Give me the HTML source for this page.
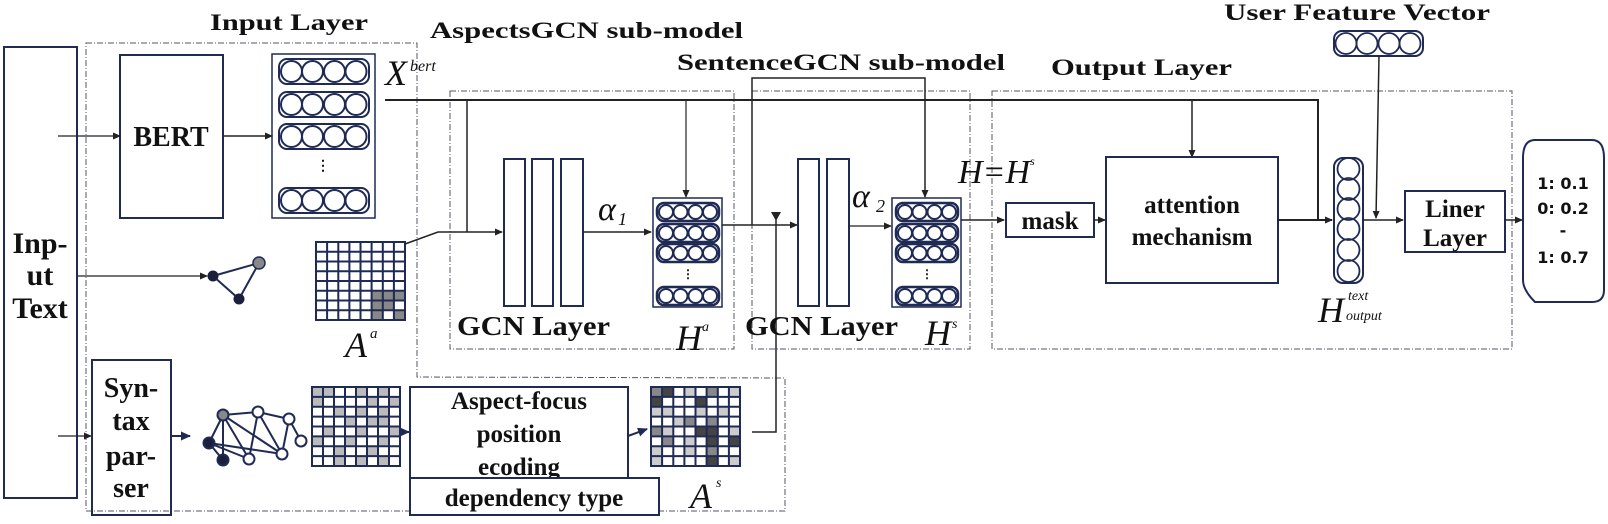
<!DOCTYPE html>
<html><head><meta charset="utf-8"><style>
html,body{margin:0;padding:0;background:#fff;}
svg{display:block;}
.t{font-family:"Liberation Serif",serif;font-weight:bold;fill:#111;}
.m{font-family:"Liberation Serif",serif;font-style:italic;fill:#111;}
.s{font-family:"DejaVu Sans","Liberation Sans",sans-serif;font-weight:bold;fill:#111;}
</style></head><body>
<svg width="1608" height="524" viewBox="0 0 1608 524" xmlns="http://www.w3.org/2000/svg">
<defs>
<marker id="a" markerWidth="8" markerHeight="8" refX="7" refY="4" orient="auto" markerUnits="userSpaceOnUse"><path d="M0,0.5 L8,4 L0,7.5z" fill="#222"/></marker>
<marker id="an" markerWidth="10" markerHeight="10" refX="9" refY="5" orient="auto" markerUnits="userSpaceOnUse"><path d="M0,0.5 L10,5 L0,9.5z" fill="#1f2a55"/></marker>
<g id="row4"><rect x="0" y="0" width="90" height="25" rx="8" fill="none" stroke="#1f2a55" stroke-width="2"/><circle cx="12.5" cy="12.5" r="10.5" fill="none" stroke="#1f2a55" stroke-width="2"/><circle cx="33.5" cy="12.5" r="10.5" fill="none" stroke="#1f2a55" stroke-width="2"/><circle cx="55.5" cy="12.5" r="10.5" fill="none" stroke="#1f2a55" stroke-width="2"/><circle cx="77" cy="12.5" r="10.5" fill="none" stroke="#1f2a55" stroke-width="2"/></g>
<g id="row4s"><rect x="0" y="0" width="62" height="18" rx="7" fill="none" stroke="#1f2a55" stroke-width="2.5"/><circle cx="9" cy="9" r="7" fill="none" stroke="#1f2a55" stroke-width="2"/><circle cx="23.5" cy="9" r="7" fill="none" stroke="#1f2a55" stroke-width="2"/><circle cx="38.5" cy="9" r="7" fill="none" stroke="#1f2a55" stroke-width="2"/><circle cx="53" cy="9" r="7" fill="none" stroke="#1f2a55" stroke-width="2"/></g>
</defs>

<!-- dashed containers -->
<g fill="none" stroke="#556" stroke-width="1" stroke-dasharray="6,2,1,2">
<path d="M86,43 L417,43 L417,377 L785,378 L785,511 L86,511 Z"/>
<rect x="450" y="91" width="284" height="258"/>
<rect x="752" y="91" width="218" height="258"/>
<rect x="992" y="91" width="520" height="258"/>
</g>

<!-- titles -->
<text class="t" x="210" y="30" font-size="23" textLength="158" lengthAdjust="spacingAndGlyphs">Input Layer</text>
<text class="t" x="430" y="38" font-size="23" textLength="313" lengthAdjust="spacingAndGlyphs">AspectsGCN sub-model</text>
<text class="t" x="677" y="70" font-size="23" textLength="328" lengthAdjust="spacingAndGlyphs">SentenceGCN sub-model</text>
<text class="t" x="1051" y="75" font-size="23" textLength="181" lengthAdjust="spacingAndGlyphs">Output Layer</text>
<text class="t" x="1224" y="20" font-size="23" textLength="266" lengthAdjust="spacingAndGlyphs">User Feature Vector</text>

<!-- Input text -->
<rect x="4" y="47" width="73" height="451" fill="none" stroke="#1f2a55" stroke-width="2"/>
<text class="t" x="40" y="253" font-size="30" text-anchor="middle">Inp-</text>
<text class="t" x="40" y="285" font-size="30" text-anchor="middle">ut</text>
<text class="t" x="40" y="318" font-size="30" text-anchor="middle">Text</text>

<!-- BERT -->
<rect x="120" y="55" width="103" height="163" fill="none" stroke="#1f2a55" stroke-width="2"/>
<text class="t" x="171" y="146" font-size="28" text-anchor="middle">BERT</text>
<line x1="58" y1="136" x2="120" y2="136" stroke="#222" stroke-width="1.2" marker-end="url(#a)"/>
<line x1="223" y1="136" x2="272" y2="136" stroke="#222" stroke-width="1.5" marker-end="url(#a)"/>

<!-- stack -->
<rect x="272" y="54" width="103" height="164" fill="none" stroke="#1f2a55" stroke-width="1.5"/>
<use href="#row4" x="279" y="59"/><use href="#row4" x="279" y="92"/><use href="#row4" x="279" y="124"/><use href="#row4" x="279" y="188"/>
<text class="t" x="323" y="170" font-size="14" text-anchor="middle">⋮</text>
<text class="m" x="385" y="85" font-size="36">X</text><text class="m" x="410" y="71" font-size="16">bert</text>

<!-- small graph -->
<line x1="78" y1="276" x2="207" y2="276" stroke="#222" stroke-width="1.2" marker-end="url(#a)"/>
<path d="M213,276 L259,263 L239,299 Z" fill="none" stroke="#1f2a55" stroke-width="2"/>
<circle cx="213" cy="276" r="5.5" fill="#1a1f3c"/><circle cx="259" cy="263" r="6" fill="#888" stroke="#1f2a55" stroke-width="1.5"/><circle cx="239" cy="299" r="5.5" fill="#1a1f3c"/>

<!-- A^a -->
<rect x="316" y="242" width="89" height="78" fill="#fff"/>
<g fill="#888"><rect x="371.6" y="290.75" width="33.4" height="9.75"/><rect x="371.6" y="300.5" width="22.3" height="9.75"/><rect x="371.6" y="310.25" width="11.1" height="9.75"/><rect x="393.9" y="310.25" width="11.1" height="9.75"/></g>
<path d="M327.1,242V320M338.3,242V320M349.4,242V320M360.5,242V320M371.6,242V320M382.8,242V320M393.9,242V320M316,251.75H405M316,261.5H405M316,271.25H405M316,281H405M316,290.75H405M316,300.5H405M316,310.25H405" stroke="#1f2a55" stroke-width="2" fill="none"/>
<rect x="316" y="242" width="89" height="78" fill="none" stroke="#1f2a55" stroke-width="2"/>
<text class="m" x="345" y="357" font-size="36">A</text><text class="m" x="370" y="338" font-size="15">a</text>
<polyline points="405,244 438,232 502,232" fill="none" stroke="#222" stroke-width="1.5" marker-end="url(#a)"/>

<!-- top bert line -->
<polyline points="385,100 1318,100 1318,220" fill="none" stroke="#222" stroke-width="2"/>
<line x1="467" y1="100" x2="467" y2="232" stroke="#222" stroke-width="1.5"/>
<line x1="686" y1="100" x2="686" y2="197" stroke="#222" stroke-width="1.2" marker-end="url(#a)"/>
<line x1="1192" y1="100" x2="1192" y2="157" stroke="#222" stroke-width="1.5" marker-end="url(#a)"/>

<!-- GCN 1 -->
<g fill="none" stroke="#1f2a55" stroke-width="2">
<rect x="504" y="159" width="21" height="147"/><rect x="532" y="159" width="21" height="147"/><rect x="561" y="159" width="22" height="147"/>
</g>
<text class="m" x="598" y="220" font-size="34">α</text><text class="m" x="618" y="225" font-size="18">1</text>
<line x1="583" y1="232" x2="651" y2="232" stroke="#222" stroke-width="1.5" marker-end="url(#a)"/>
<rect x="653" y="198" width="69" height="109" fill="none" stroke="#1f2a55" stroke-width="1.5"/>
<use href="#row4s" x="657" y="203"/><use href="#row4s" x="657" y="224"/><use href="#row4s" x="657" y="244"/><use href="#row4s" x="657" y="287"/>
<text class="t" x="688" y="278" font-size="12" text-anchor="middle">⋮</text>
<text class="t" x="457" y="335" font-size="27" textLength="153" lengthAdjust="spacingAndGlyphs">GCN Layer</text>
<text class="m" x="676" y="350" font-size="36">H</text><text class="m" x="702" y="331" font-size="14">a</text>

<!-- between -->
<line x1="722" y1="225" x2="797" y2="225" stroke="#222" stroke-width="1.5" marker-end="url(#a)"/>
<polyline points="752,225 752,78 925,78 925,197" fill="none" stroke="#222" stroke-width="1.5" marker-end="url(#a)"/>
<polyline points="752,432 776,432 776,220" fill="none" stroke="#222" stroke-width="1.5"/>
<path d="M771,212 L781,212 L776,221z" fill="#222"/>

<!-- GCN 2 -->
<g fill="none" stroke="#1f2a55" stroke-width="2">
<rect x="798" y="159" width="21" height="147"/><rect x="827" y="159" width="22" height="147"/>
</g>
<text class="m" x="852" y="207" font-size="34">α</text><text class="m" x="876" y="212" font-size="18">2</text>
<line x1="849" y1="226" x2="891" y2="226" stroke="#222" stroke-width="1.2" marker-end="url(#a)"/>
<rect x="892" y="198" width="69" height="109" fill="none" stroke="#1f2a55" stroke-width="1.5"/>
<use href="#row4s" x="896" y="203"/><use href="#row4s" x="896" y="224"/><use href="#row4s" x="896" y="244"/><use href="#row4s" x="896" y="287"/>
<text class="t" x="927" y="278" font-size="12" text-anchor="middle">⋮</text>
<text class="t" x="745" y="335" font-size="27" textLength="153" lengthAdjust="spacingAndGlyphs">GCN Layer</text>
<text class="m" x="925" y="345" font-size="36">H</text><text class="m" x="952" y="328" font-size="14">s</text>

<!-- Output -->
<text class="m" x="958" y="183" font-size="34">H=H</text><text class="m" x="1030" y="165" font-size="12">s</text>
<line x1="961" y1="220" x2="1004" y2="220" stroke="#222" stroke-width="1.5" marker-end="url(#a)"/>
<rect x="1006" y="203" width="88" height="34" fill="none" stroke="#1f2a55" stroke-width="2"/>
<text class="t" x="1050" y="229" font-size="25" text-anchor="middle">mask</text>
<line x1="1094" y1="220" x2="1105" y2="220" stroke="#222" stroke-width="1.5" marker-end="url(#a)"/>
<rect x="1106" y="157" width="172" height="126" fill="none" stroke="#1f2a55" stroke-width="2"/>
<text class="t" x="1192" y="213" font-size="25" text-anchor="middle">attention</text>
<text class="t" x="1192" y="245" font-size="25" text-anchor="middle">mechanism</text>
<line x1="1278" y1="220" x2="1332" y2="220" stroke="#222" stroke-width="2" marker-end="url(#a)"/>
<rect x="1334" y="158" width="29" height="125" rx="9" fill="none" stroke="#1f2a55" stroke-width="2"/>
<g fill="none" stroke="#1f2a55" stroke-width="1.8">
<circle cx="1348.5" cy="169" r="11"/><circle cx="1348.5" cy="189" r="11"/><circle cx="1348.5" cy="209" r="11"/><circle cx="1348.5" cy="229" r="11"/><circle cx="1348.5" cy="250" r="11"/><circle cx="1348.5" cy="271" r="11"/>
</g>
<text class="m" x="1318" y="322" font-size="36">H</text><text class="m" x="1348" y="300" font-size="14">text</text><text class="m" x="1346" y="320" font-size="14">output</text>

<!-- user vec -->
<rect x="1334" y="31" width="89" height="25" rx="8" fill="none" stroke="#1f2a55" stroke-width="2"/>
<g fill="none" stroke="#1f2a55" stroke-width="1.8"><circle cx="1346" cy="43.5" r="10.5"/><circle cx="1367" cy="43.5" r="10.5"/><circle cx="1389" cy="43.5" r="10.5"/><circle cx="1410" cy="43.5" r="10.5"/></g>
<line x1="1379" y1="56" x2="1376" y2="218" stroke="#222" stroke-width="1.5" marker-end="url(#a)"/>
<line x1="1363" y1="220" x2="1403" y2="220" stroke="#222" stroke-width="1.5" marker-end="url(#a)"/>
<rect x="1405" y="191" width="100" height="61" fill="none" stroke="#1f2a55" stroke-width="2"/>
<text class="t" x="1455" y="217" font-size="25" text-anchor="middle">Liner</text>
<text class="t" x="1455" y="246" font-size="25" text-anchor="middle">Layer</text>
<line x1="1505" y1="220" x2="1522" y2="220" stroke="#222" stroke-width="1.5" marker-end="url(#a)"/>
<path d="M1535,140 L1592,140 Q1604,140 1604,158 L1604,290 Q1604,302 1592,302 L1535,302 Q1523,290 1523,280 L1523,158 Q1523,140 1535,140 Z" fill="none" stroke="#1f2a55" stroke-width="2"/>
<text class="s" x="1563" y="189" font-size="16" text-anchor="middle">1:  0.1</text>
<text class="s" x="1563" y="214" font-size="16" text-anchor="middle">0:  0.2</text>
<text class="s" x="1563" y="236" font-size="16" text-anchor="middle">-</text>
<text class="s" x="1563" y="263" font-size="16" text-anchor="middle">1:  0.7</text>

<!-- syntax parser -->
<line x1="58" y1="436" x2="91" y2="436" stroke="#222" stroke-width="1.2" marker-end="url(#a)"/>
<rect x="92" y="360" width="79" height="155" fill="none" stroke="#1f2a55" stroke-width="2"/>
<text class="t" x="131" y="397" font-size="28" text-anchor="middle">Syn-</text>
<text class="t" x="131" y="430" font-size="28" text-anchor="middle">tax</text>
<text class="t" x="131" y="465" font-size="28" text-anchor="middle">par-</text>
<text class="t" x="131" y="497" font-size="28" text-anchor="middle">ser</text>
<line x1="171" y1="436" x2="190" y2="436" stroke="#1f2a55" stroke-width="2" marker-end="url(#an)"/>

<!-- big graph -->
<g stroke="#1f2a55" stroke-width="2" fill="none">
<line x1="223" y1="415" x2="258" y2="412"/><line x1="223" y1="415" x2="209" y2="443"/><line x1="223" y1="415" x2="223" y2="460"/><line x1="223" y1="415" x2="249" y2="459"/><line x1="223" y1="415" x2="282" y2="454"/>
<line x1="258" y1="412" x2="249" y2="459"/><line x1="258" y1="412" x2="289" y2="419"/><line x1="258" y1="412" x2="282" y2="454"/>
<line x1="289" y1="419" x2="282" y2="454"/><line x1="289" y1="419" x2="301" y2="441"/>
<line x1="209" y1="443" x2="282" y2="454"/><line x1="209" y1="443" x2="249" y2="459"/><line x1="209" y1="443" x2="223" y2="460"/>
</g>
<g stroke="#1f2a55" stroke-width="2">
<circle cx="223" cy="415" r="5.5" fill="#888"/><circle cx="258" cy="412" r="5.5" fill="#fff"/><circle cx="289" cy="419" r="5.5" fill="#fff"/><circle cx="301" cy="441" r="5.5" fill="#fff"/><circle cx="282" cy="454" r="5.5" fill="#fff"/><circle cx="249" cy="459" r="5.5" fill="#fff"/><circle cx="209" cy="443" r="5.5" fill="#1a1f3c"/><circle cx="223" cy="460" r="5.5" fill="#1a1f3c"/>
</g>

<!-- matrix 1 -->
<rect x="312" y="387" width="88" height="79" fill="#fff"/>
<g fill="#bbb">
<rect x="312" y="387" width="22" height="9.9"/><rect x="356" y="387" width="11" height="9.9"/><rect x="378" y="387" width="11" height="9.9"/>
<rect x="312" y="396.9" width="11" height="9.9"/><rect x="367" y="396.9" width="11" height="9.9"/><rect x="389" y="396.9" width="11" height="9.9"/>
<rect x="334" y="406.8" width="11" height="9.9"/><rect x="356" y="406.8" width="11" height="9.9"/><rect x="378" y="406.8" width="11" height="9.9"/>
<rect x="345" y="416.7" width="11" height="9.9"/><rect x="367" y="416.7" width="22" height="9.9"/>
<rect x="323" y="426.6" width="11" height="9.9"/><rect x="356" y="426.6" width="11" height="9.9"/><rect x="389" y="426.6" width="11" height="9.9"/>
<rect x="312" y="436.5" width="11" height="9.9"/><rect x="345" y="436.5" width="11" height="9.9"/><rect x="378" y="436.5" width="11" height="9.9"/>
<rect x="334" y="446.4" width="11" height="9.9"/><rect x="367" y="446.4" width="11" height="9.9"/>
<rect x="334" y="456.3" width="11" height="9.9"/><rect x="356" y="456.3" width="11" height="9.9"/><rect x="378" y="456.3" width="11" height="9.9"/>
</g>
<path d="M323,387V466M334,387V466M345,387V466M356,387V466M367,387V466M378,387V466M389,387V466M312,396.9H400M312,406.75H400M312,416.6H400M312,426.5H400M312,436.4H400M312,446.25H400M312,456.1H400" stroke="#1f2a55" stroke-width="2" fill="none"/>
<rect x="312" y="387" width="88" height="79" fill="none" stroke="#1f2a55" stroke-width="2"/>
<line x1="400" y1="432" x2="409" y2="432" stroke="#1f2a55" stroke-width="2" marker-end="url(#an)"/>

<rect x="410" y="387" width="218" height="91" fill="#fff" stroke="#1f2a55" stroke-width="2"/>
<text class="t" x="519" y="409" font-size="25" text-anchor="middle">Aspect-focus</text>
<text class="t" x="519" y="442" font-size="25" text-anchor="middle">position</text>
<text class="t" x="519" y="475" font-size="25" text-anchor="middle">ecoding</text>
<rect x="410" y="478" width="249" height="37" fill="#fff" stroke="#1f2a55" stroke-width="2"/>
<text class="t" x="534" y="506" font-size="25" text-anchor="middle">dependency type</text>
<line x1="628" y1="436" x2="647" y2="429" stroke="#1f2a55" stroke-width="2" marker-end="url(#an)"/>

<!-- A^s matrix -->
<rect x="651" y="387" width="89" height="79" fill="#fff"/>
<g fill="#888">
<rect x="651" y="387" width="11" height="10"/><rect x="706" y="387" width="11" height="10"/><rect x="651" y="426" width="11" height="10"/><rect x="684" y="416" width="11" height="10"/><rect x="706" y="416" width="11" height="10"/><rect x="662" y="436" width="11" height="10"/><rect x="706" y="446" width="11" height="10"/>
</g>
<g fill="#444">
<rect x="662" y="387" width="11" height="10"/><rect x="651" y="397" width="11" height="10"/><rect x="695" y="397" width="11" height="10"/><rect x="695" y="426" width="22" height="10"/><rect x="729" y="436" width="11" height="10"/><rect x="706" y="436" width="11" height="10"/><rect x="706" y="456" width="11" height="10"/>
</g>
<g fill="#ccc">
<rect x="684" y="387" width="11" height="10"/><rect x="729" y="387" width="11" height="10"/><rect x="651" y="407" width="22" height="10"/><rect x="695" y="407" width="11" height="10"/><rect x="718" y="407" width="11" height="10"/><rect x="673" y="416" width="11" height="10"/><rect x="662" y="426" width="11" height="10"/><rect x="729" y="426" width="11" height="10"/><rect x="684" y="436" width="11" height="10"/><rect x="651" y="446" width="11" height="10"/><rect x="684" y="446" width="11" height="10"/><rect x="651" y="456" width="11" height="10"/><rect x="729" y="456" width="11" height="10"/>
</g>
<path d="M662.1,387V466M673.3,387V466M684.4,387V466M695.5,387V466M706.6,387V466M717.8,387V466M728.9,387V466M651,396.9H740M651,406.75H740M651,416.6H740M651,426.5H740M651,436.4H740M651,446.25H740M651,456.1H740" stroke="#1f2a55" stroke-width="2" fill="none"/>
<rect x="651" y="387" width="89" height="79" fill="none" stroke="#1f2a55" stroke-width="2"/>
<text class="m" x="690" y="508" font-size="36">A</text><text class="m" x="716" y="487" font-size="14">s</text>
</svg>
</body></html>
